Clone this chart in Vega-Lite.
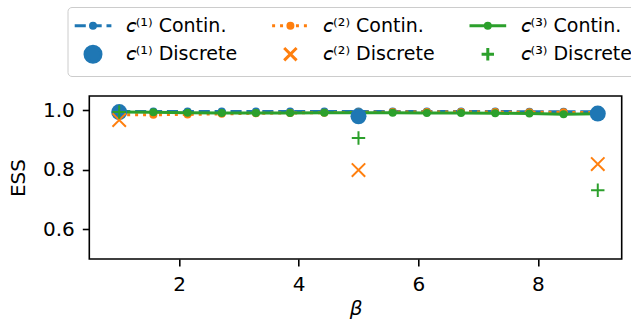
{
  "$schema": "https://vega.github.io/schema/vega-lite/v6.json",
  "width": 532.4,
  "height": 163,
  "autosize": {"type": "none"},
  "padding": {"left": 89.3, "top": 96, "right": 9.3, "bottom": 64},
  "background": "white",
  "config": {
    "font": "DejaVu Sans",
    "view": {"stroke": "black", "strokeWidth": 1.6},
    "axis": {
      "domain": false, "grid": false,
      "tickColor": "black", "tickWidth": 1.6, "tickSize": 7,
      "labelFont": "DejaVu Sans", "labelFontSize": 20, "labelColor": "black", "labelPadding": 8,
      "titleFont": "DejaVu Sans", "titleFontSize": 20, "titleFontWeight": "normal", "titleColor": "black"
    }
  },
  "data": {"values": [
    {"beta": 1.0, "ess": 0.996, "series": "𝘤⁽¹⁾ Contin."},
    {"beta": 1.5714, "ess": 0.996, "series": "𝘤⁽¹⁾ Contin."},
    {"beta": 2.1429, "ess": 0.996, "series": "𝘤⁽¹⁾ Contin."},
    {"beta": 2.7143, "ess": 0.996, "series": "𝘤⁽¹⁾ Contin."},
    {"beta": 3.2857, "ess": 0.996, "series": "𝘤⁽¹⁾ Contin."},
    {"beta": 3.8571, "ess": 0.996, "series": "𝘤⁽¹⁾ Contin."},
    {"beta": 4.4286, "ess": 0.996, "series": "𝘤⁽¹⁾ Contin."},
    {"beta": 5.0, "ess": 0.996, "series": "𝘤⁽¹⁾ Contin."},
    {"beta": 5.5714, "ess": 0.996, "series": "𝘤⁽¹⁾ Contin."},
    {"beta": 6.1429, "ess": 0.996, "series": "𝘤⁽¹⁾ Contin."},
    {"beta": 6.7143, "ess": 0.996, "series": "𝘤⁽¹⁾ Contin."},
    {"beta": 7.2857, "ess": 0.996, "series": "𝘤⁽¹⁾ Contin."},
    {"beta": 7.8571, "ess": 0.995, "series": "𝘤⁽¹⁾ Contin."},
    {"beta": 8.4286, "ess": 0.995, "series": "𝘤⁽¹⁾ Contin."},
    {"beta": 9.0, "ess": 0.995, "series": "𝘤⁽¹⁾ Contin."},
    {"beta": 1.0, "ess": 0.985, "series": "𝘤⁽²⁾ Contin."},
    {"beta": 1.5714, "ess": 0.985, "series": "𝘤⁽²⁾ Contin."},
    {"beta": 2.1429, "ess": 0.986, "series": "𝘤⁽²⁾ Contin."},
    {"beta": 2.7143, "ess": 0.988, "series": "𝘤⁽²⁾ Contin."},
    {"beta": 3.2857, "ess": 0.990, "series": "𝘤⁽²⁾ Contin."},
    {"beta": 3.8571, "ess": 0.991, "series": "𝘤⁽²⁾ Contin."},
    {"beta": 4.4286, "ess": 0.992, "series": "𝘤⁽²⁾ Contin."},
    {"beta": 5.0, "ess": 0.993, "series": "𝘤⁽²⁾ Contin."},
    {"beta": 5.5714, "ess": 0.994, "series": "𝘤⁽²⁾ Contin."},
    {"beta": 6.1429, "ess": 0.994, "series": "𝘤⁽²⁾ Contin."},
    {"beta": 6.7143, "ess": 0.994, "series": "𝘤⁽²⁾ Contin."},
    {"beta": 7.2857, "ess": 0.994, "series": "𝘤⁽²⁾ Contin."},
    {"beta": 7.8571, "ess": 0.993, "series": "𝘤⁽²⁾ Contin."},
    {"beta": 8.4286, "ess": 0.993, "series": "𝘤⁽²⁾ Contin."},
    {"beta": 9.0, "ess": 0.992, "series": "𝘤⁽²⁾ Contin."},
    {"beta": 1.0, "ess": 0.994, "series": "𝘤⁽³⁾ Contin."},
    {"beta": 1.5714, "ess": 0.993, "series": "𝘤⁽³⁾ Contin."},
    {"beta": 2.1429, "ess": 0.992, "series": "𝘤⁽³⁾ Contin."},
    {"beta": 2.7143, "ess": 0.991, "series": "𝘤⁽³⁾ Contin."},
    {"beta": 3.2857, "ess": 0.991, "series": "𝘤⁽³⁾ Contin."},
    {"beta": 3.8571, "ess": 0.991, "series": "𝘤⁽³⁾ Contin."},
    {"beta": 4.4286, "ess": 0.992, "series": "𝘤⁽³⁾ Contin."},
    {"beta": 5.0, "ess": 0.992, "series": "𝘤⁽³⁾ Contin."},
    {"beta": 5.5714, "ess": 0.992, "series": "𝘤⁽³⁾ Contin."},
    {"beta": 6.1429, "ess": 0.991, "series": "𝘤⁽³⁾ Contin."},
    {"beta": 6.7143, "ess": 0.991, "series": "𝘤⁽³⁾ Contin."},
    {"beta": 7.2857, "ess": 0.990, "series": "𝘤⁽³⁾ Contin."},
    {"beta": 7.8571, "ess": 0.989, "series": "𝘤⁽³⁾ Contin."},
    {"beta": 8.4286, "ess": 0.987, "series": "𝘤⁽³⁾ Contin."},
    {"beta": 9.0, "ess": 0.988, "series": "𝘤⁽³⁾ Contin."},
    {"beta": 1.0, "ess": 0.994, "series": "𝘤⁽¹⁾ Discrete"},
    {"beta": 5.0, "ess": 0.980, "series": "𝘤⁽¹⁾ Discrete"},
    {"beta": 9.0, "ess": 0.989, "series": "𝘤⁽¹⁾ Discrete"},
    {"beta": 1.0, "ess": 0.967, "series": "𝘤⁽²⁾ Discrete"},
    {"beta": 5.0, "ess": 0.799, "series": "𝘤⁽²⁾ Discrete"},
    {"beta": 9.0, "ess": 0.819, "series": "𝘤⁽²⁾ Discrete"},
    {"beta": 1.0, "ess": 0.994, "series": "𝘤⁽³⁾ Discrete"},
    {"beta": 5.0, "ess": 0.907, "series": "𝘤⁽³⁾ Discrete"},
    {"beta": 9.0, "ess": 0.731, "series": "𝘤⁽³⁾ Discrete"}
  ]},
  "encoding": {
    "x": {"field": "beta", "type": "quantitative",
      "scale": {"domain": [0.5, 9.4], "nice": false, "zero": false},
      "axis": {"values": [2, 4, 6, 8], "format": "d", "title": "β", "titleFontStyle": "italic", "titlePadding": 4}},
    "y": {"field": "ess", "type": "quantitative",
      "scale": {"domain": [0.5, 1.048], "nice": false, "zero": false},
      "axis": {"values": [0.6, 0.8, 1.0], "format": ".1f", "title": "ESS", "titlePadding": 14}},
    "color": {"field": "series", "type": "nominal",
      "scale": {
        "domain": ["𝘤⁽¹⁾ Contin.", "𝘤⁽²⁾ Contin.", "𝘤⁽³⁾ Contin.", "𝘤⁽¹⁾ Discrete", "𝘤⁽²⁾ Discrete", "𝘤⁽³⁾ Discrete"],
        "range": ["#1f77b4", "#ff7f0e", "#2ca02c", "#1f77b4", "#ff7f0e", "#2ca02c"]
      },
      "legend": {
        "orient": "none", "legendX": -21.8, "legendY": -89,
        "direction": "horizontal", "columns": 3, "title": null,
        "labelFont": "DejaVu Sans", "labelFontSize": 19, "labelColor": "black",
        "symbolSize": 400, "symbolStrokeWidth": 3, "symbolOffset": 7,
        "labelOffset": 21.2, "columnPadding": 28.4, "rowPadding": 3.7,
        "padding": 7, "strokeColor": "#cccccc", "fillColor": "white", "cornerRadius": 4,
        "encode": {
          "symbols": {"update": {
            "shape": {"signal": "['M-1.83,0H-0.72M-0.24,0H0.87M1.35,0H1.84M-0.25,0A0.25,0.25,0,1,0,0.25,0A0.25,0.25,0,1,0,-0.25,0Z', 'M-1.83,0H-1.53M-1.035,0H-0.735M-0.24,0H0.06M0.555,0H0.855M1.35,0H1.65M-0.25,0A0.25,0.25,0,1,0,0.25,0A0.25,0.25,0,1,0,-0.25,0Z', 'M-1.83,0H1.84M-0.25,0A0.25,0.25,0,1,0,0.25,0A0.25,0.25,0,1,0,-0.25,0Z', 'M-0.8,0A0.8,0.8,0,1,0,0.8,0A0.8,0.8,0,1,0,-0.8,0Z', 'M-0.62,-0.62L0.62,0.62M-0.62,0.62L0.62,-0.62', 'M-0.62,0H0.62M0,-0.62V0.62'][indexof(domain('color'), datum.value)]"},
            "fill": {"scale": "color", "field": "value"},
            "stroke": {"signal": "indexof(domain('color'), datum.value) == 3 ? 'transparent' : scale('color', datum.value)"},
            "opacity": {"value": 1},
            "fillOpacity": {"value": 1},
            "strokeOpacity": {"value": 1}
          }}
        }
      }
    }
  },
  "layer": [
    {"transform": [{"filter": {"field": "series", "equal": "𝘤⁽¹⁾ Contin."}}],
     "mark": {"type": "line", "strokeWidth": 3, "strokeDash": [11.1, 4.8], "point": {"filled": true, "size": 64, "opacity": 1}}},
    {"transform": [{"filter": {"field": "series", "equal": "𝘤⁽²⁾ Contin."}}],
     "mark": {"type": "line", "strokeWidth": 3, "strokeDash": [3, 4.95], "point": {"filled": true, "size": 64, "opacity": 1}}},
    {"transform": [{"filter": {"field": "series", "equal": "𝘤⁽³⁾ Contin."}}],
     "mark": {"type": "line", "strokeWidth": 3, "point": {"filled": true, "size": 64, "opacity": 1}}},
    {"transform": [{"filter": {"field": "series", "equal": "𝘤⁽¹⁾ Discrete"}}],
     "mark": {"type": "point", "filled": true, "shape": "circle", "size": 256, "opacity": 1, "strokeWidth": 0}},
    {"transform": [{"filter": {"field": "series", "equal": "𝘤⁽²⁾ Discrete"}}],
     "mark": {"type": "point", "filled": false, "shape": "M-1,-1L1,1M-1,1L1,-1", "size": 180, "opacity": 1, "strokeWidth": 2}},
    {"transform": [{"filter": {"field": "series", "equal": "𝘤⁽³⁾ Discrete"}}],
     "mark": {"type": "point", "filled": false, "shape": "M-1,0H1M0,-1V1", "size": 180, "opacity": 1, "strokeWidth": 2}}
  ]
}
